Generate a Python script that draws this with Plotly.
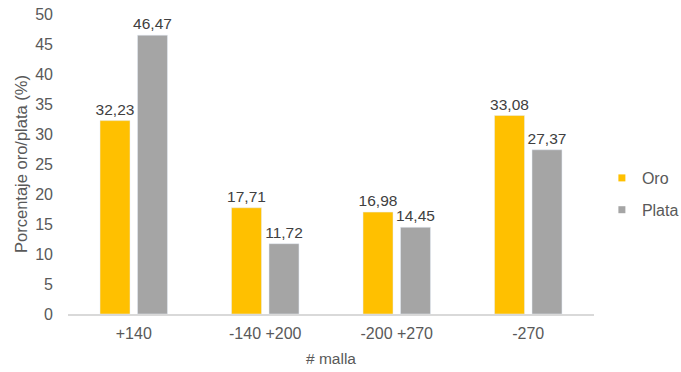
import plotly.graph_objects as go

categories = ["+140", "-140 +200", "-200 +270", "-270"]
oro = [32.23, 17.71, 16.98, 33.08]
plata = [46.47, 11.72, 14.45, 27.37]
y_ticks = [0, 5, 10, 15, 20, 25, 30, 35, 40, 45, 50]

font = "Liberation Sans, Arial, sans-serif"
gray_text = "#595959"
colors = {"Oro": "#FFC000", "Plata": "#A5A5A5"}

fig = go.Figure()
for name, vals, grp in [("Oro", oro, "a"), ("Plata", plata, "b")]:
    fig.add_trace(go.Bar(
        x=categories, y=vals, name=name, marker_color=colors[name],
        texttemplate="%{y:.2f}", textposition="outside", constraintext="none",
        textfont=dict(family=font, size=15.5, color="#404040"),
        cliponaxis=False, legendgroup=grp, showlegend=False,
    ))
# legend entries (small square markers, as in the reference)
for name, grp in [("Oro", "a"), ("Plata", "b")]:
    fig.add_trace(go.Scatter(
        x=[None], y=[None], mode="markers", name=name, legendgroup=grp,
        marker=dict(symbol="square", size=7, color=colors[name]),
    ))

fig.update_layout(
    width=681, height=372,
    margin=dict(l=68, r=87, t=14, b=58, autoexpand=False),
    paper_bgcolor="white", plot_bgcolor="white",
    separators=",.",
    barmode="group", bargap=0.43, bargroupgap=0.2,
    font=dict(family=font, size=16, color=gray_text),
    showlegend=True,
    legend=dict(x=1.015, xanchor="left", y=0.40, yanchor="middle",
                traceorder="grouped", tracegroupgap=8,
                font=dict(family=font, size=16, color=gray_text)),
    xaxis=dict(
        title=dict(text="# malla", font=dict(size=15.5, color=gray_text), standoff=12),
        showline=True, linecolor="#D9D9D9", linewidth=1.5, automargin=False,
        ticks="", showgrid=False, ticklabelstandoff=4,
        tickfont=dict(size=16, color=gray_text),
    ),
    yaxis=dict(
        title=dict(text="Porcentaje oro/plata (%)", font=dict(size=16.5, color=gray_text), standoff=3),
        range=[0, 50], tickvals=y_ticks, showgrid=False, zeroline=False, automargin=False,
        showline=False, ticks="", ticklabelstandoff=14,
        tickfont=dict(size=16, color=gray_text),
    ),
)

fig.write_html("out.html", config={"displayModeBar": False},
               post_script="document.body.style.margin='0';document.body.style.overflow='hidden';")
